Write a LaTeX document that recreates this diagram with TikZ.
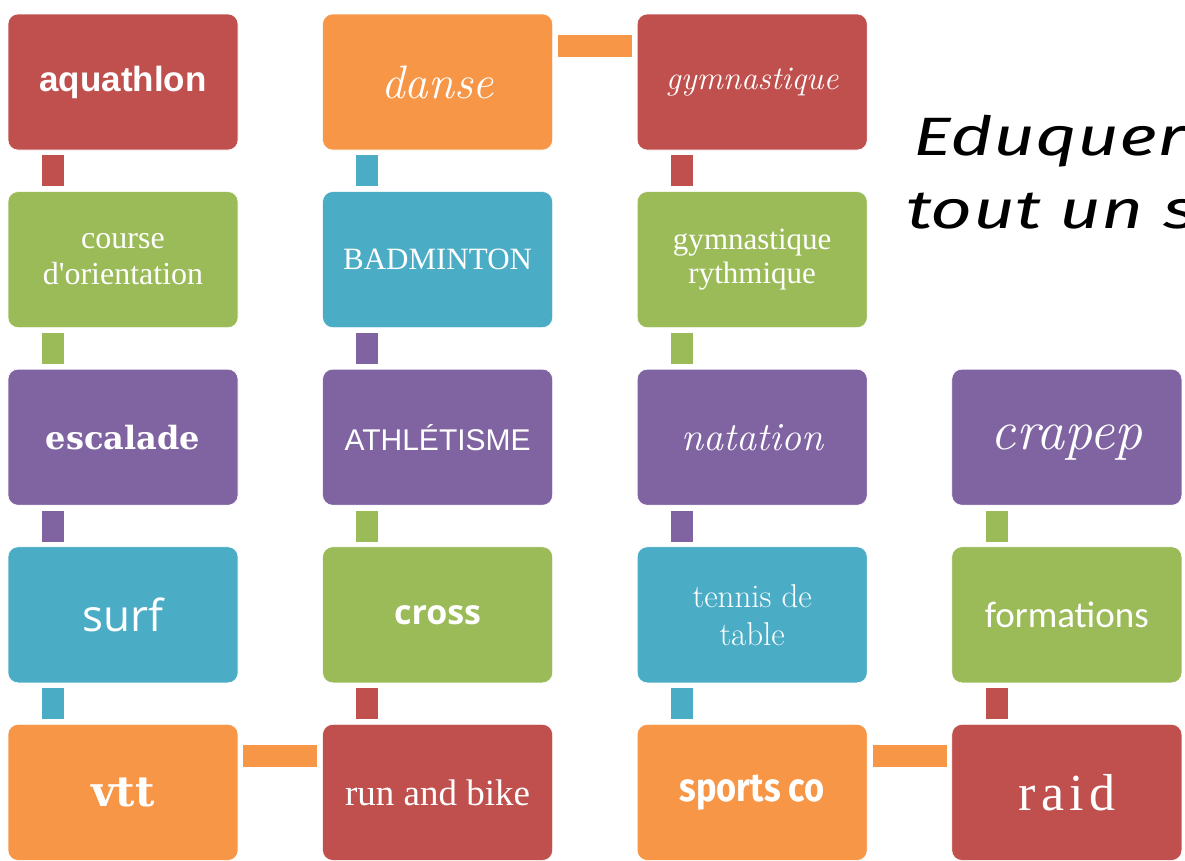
\documentclass[tikz,border=0pt]{standalone}
\usepackage{fontspec}
\usepackage{tikz}
\usetikzlibrary{positioning}
\newfontfamily\arialfont{Liberation Sans}
\newfontfamily\timesfont{Liberation Serif}
\newfontfamily\raidfont[LetterSpace=10]{Liberation Serif}
\newfontfamily\heavyfont{DejaVu Serif}
\newfontfamily\segoefont{Open Sans}
\newfontfamily\calfont{Carlito}
\newfontfamily\impactfont{Fira Sans}
\newfontfamily\handfont{Fira Sans}
\newcommand{\fsz}[2]{\fontsize{#1}{#2}\selectfont}
\definecolor{sportred}{HTML}{C0504D}
\definecolor{sportorange}{HTML}{F79646}
\definecolor{sportgreen}{HTML}{9BBB59}
\definecolor{sportblue}{HTML}{4BACC6}
\definecolor{sportpurple}{HTML}{8064A2}

\begin{document}
\begin{tikzpicture}[
        x=1pt, y=1pt,
        node distance=41pt and 84pt,
        every node/.style={text=white, align=center},
        box/.style={rectangle, rounded corners=10pt, draw=white, line width=0.6pt, minimum width=230pt, minimum height=136pt, inner sep=3pt},
        link/.style={line width=22pt, shorten <=5pt, shorten >=5pt}
    ]
        \useasboundingbox (0,0) rectangle (1185,-860);
        \clip (0,0) rectangle (1185,-860);

        \node[box, fill=sportred, font=\arialfont\bfseries\fsz{35}{40}] (aquathlon) at (123,-82) {aquathlon};
        \node[box, fill=sportgreen, below=of aquathlon, font=\timesfont\fsz{32}{36}] (orientation) {course\\d'orientation};
        \node[box, fill=sportpurple, below=of orientation, font=\heavyfont\bfseries\fsz{32}{36}] (escalade) {escalade};
        \node[box, fill=sportblue, below=of escalade, font=\segoefont\fsz{44}{50}] (surf) {surf};
        \node[box, fill=sportorange, below=of surf, font=\heavyfont\bfseries\fsz{42}{48}] (vtt) {vtt};
        \node[box, fill=sportred, right=of vtt, font=\timesfont\fsz{37}{42}] (runbike) {run and bike};
        \node[box, fill=sportgreen, above=of runbike, font=\segoefont\bfseries\fsz{34}{40}] (cross) {cross};
        \node[box, fill=sportpurple, above=of cross, font=\arialfont\fsz{30}{34}] (athletisme) {ATHLÉTISME};
        \node[box, fill=sportblue, above=of athletisme, font=\timesfont\fsz{31}{36}] (badminton) {BADMINTON};
        \node[box, fill=sportorange, above=of badminton, font=\itshape\fsz{47}{52}] (danse) {danse};
        \node[box, fill=sportred, right=of danse, font=\itshape\fsz{33}{38}] (gym) {gymnastique};
        \node[box, fill=sportgreen, below=of gym, font=\timesfont\fsz{31}{34}] (gymryth) {gymnastique\\rythmique};
        \node[box, fill=sportpurple, below=of gymryth, font=\itshape\fsz{40}{46}] (natation) {natation};
        \node[box, fill=sportblue, below=of natation, font=\fsz{33}{38}] (tennis) {tennis de\\table};
        \node[box, fill=sportorange, below=of tennis, font=\impactfont\bfseries\fsz{40}{46}] (sportsco) {\scalebox{0.86}[1]{sports co}};
        \node[box, fill=sportred, right=of sportsco, font=\raidfont\fsz{52}{58}] (raid) {raid};
        \node[box, fill=sportgreen, above=of raid, font=\calfont\fsz{37}{42}] (formations) {formations};
        \node[box, fill=sportpurple, above=of formations, font=\itshape\fsz{56}{60}] (crapep) {\raisebox{-12pt}[0pt][0pt]{crapep}};

        \draw[link, sportred] ([xshift=45pt]aquathlon.south west) -- ([xshift=45pt]orientation.north west);
        \draw[link, sportgreen] ([xshift=45pt]orientation.south west) -- ([xshift=45pt]escalade.north west);
        \draw[link, sportpurple] ([xshift=45pt]escalade.south west) -- ([xshift=45pt]surf.north west);
        \draw[link, sportblue] ([xshift=45pt]surf.south west) -- ([xshift=45pt]vtt.north west);
        \draw[link, sportorange] ([yshift=-32pt]vtt.north east) -- ([yshift=-32pt]runbike.north west);
        \draw[link, sportred] ([xshift=45pt]runbike.north west) -- ([xshift=45pt]cross.south west);
        \draw[link, sportgreen] ([xshift=45pt]cross.north west) -- ([xshift=45pt]athletisme.south west);
        \draw[link, sportpurple] ([xshift=45pt]athletisme.north west) -- ([xshift=45pt]badminton.south west);
        \draw[link, sportblue] ([xshift=45pt]badminton.north west) -- ([xshift=45pt]danse.south west);
        \draw[link, sportorange] ([yshift=-32pt]danse.north east) -- ([yshift=-32pt]gym.north west);
        \draw[link, sportred] ([xshift=45pt]gym.south west) -- ([xshift=45pt]gymryth.north west);
        \draw[link, sportgreen] ([xshift=45pt]gymryth.south west) -- ([xshift=45pt]natation.north west);
        \draw[link, sportpurple] ([xshift=45pt]natation.south west) -- ([xshift=45pt]tennis.north west);
        \draw[link, sportblue] ([xshift=45pt]tennis.south west) -- ([xshift=45pt]sportsco.north west);
        \draw[link, sportorange] ([yshift=-32pt]sportsco.north east) -- ([yshift=-32pt]raid.north west);
        \draw[link, sportred] ([xshift=45pt]raid.north west) -- ([xshift=45pt]formations.south west);
        \draw[link, sportgreen] ([xshift=45pt]formations.north west) -- ([xshift=45pt]crapep.south west);

        \node[text=black, anchor=base west, font=\handfont\itshape\fsz{54}{60}] (motto) at (910,-155) {\scalebox{1.35}[1]{Eduquer}};
        \node[text=black, anchor=base west, font=\handfont\itshape\fsz{54}{60}] (mottob) at (903,-228) {\scalebox{1.35}[1]{tout un s}};
    \end{tikzpicture}
\end{document}
